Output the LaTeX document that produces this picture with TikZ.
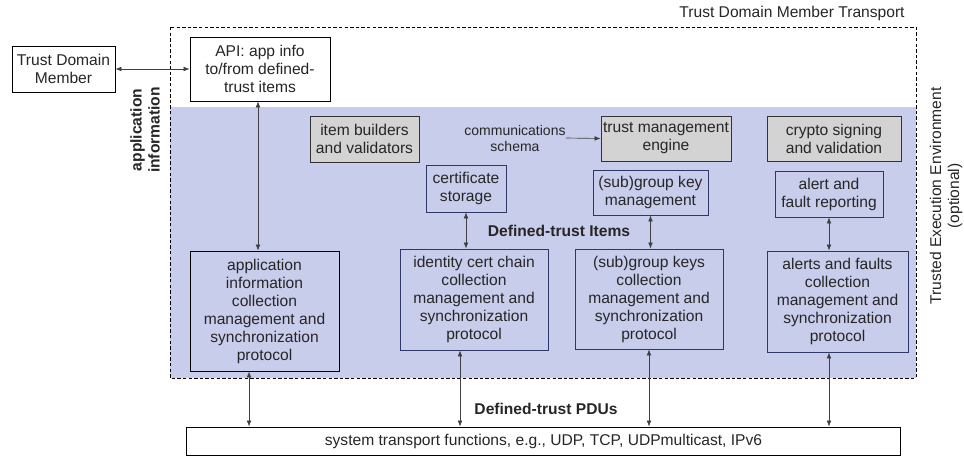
\documentclass[tikz,border=0pt]{standalone}
\usepackage{fontspec}
\setmainfont{Liberation Sans}
\usepackage{xcolor}
\usepackage{tikz}
\usetikzlibrary{positioning,arrows.meta,shapes}

\definecolor{teeblue}{RGB}{200,205,235}
\definecolor{boxgray}{RGB}{211,211,211}
\definecolor{itemnavy}{RGB}{45,55,105}

\begin{document}
\begin{tikzpicture}[
			x=0.75pt, y=-0.75pt,
			every node/.style={text=black!85},
			block/.style={rectangle, draw, line width=0.7pt, inner sep=0pt, align=center, font=\fontsize{11.7}{13.5}\selectfont, fill=white},
			grayblock/.style={block, fill=boxgray, draw=black!80},
			itemblock/.style={block, fill=teeblue, draw=itemnavy},
			tag/.style={align=center, inner sep=0pt, font=\fontsize{11.7}{13.5}\selectfont},
			boldtag/.style={tag, font=\fontsize{11.7}{13.5}\selectfont\bfseries},
			arrow/.style={-{Latex[length=4.5pt,width=3.6pt]}, line width=0.5pt, black!75},
			twoway/.style={{Latex[length=4.5pt,width=3.6pt]}-{Latex[length=4.5pt,width=3.6pt]}, line width=0.5pt, black!75}
		]

		\useasboundingbox (0,0) rectangle (964,457);

		\fill[teeblue] (170,107) rectangle (916,378);
		\draw[dash pattern=on 2.6pt off 1.6pt, line width=0.6pt] (170,27) rectangle (916,378);

		\node[tag] (tdmt) at (792,13) {Trust Domain Member Transport};
		\node[tag, rotate=90] (tee) at (946,196) {Trusted Execution Environment\\(optional)};
		\node[boldtag, rotate=90] (appinfo) at (145,130) {application\\information};

		\node[block, minimum width=77.25pt, minimum height=34.5pt] (tdm) at (63.5,69) {Trust Domain\\Member};
		\node[block, minimum width=105pt, minimum height=48pt] (api) at (260,69) {API: app info\\to/from defined-\\trust items};

		\node[grayblock, minimum width=81.75pt, minimum height=34.5pt] (builders) at (364.5,139) {item builders\\and validators};
		\node[grayblock, minimum width=97.5pt, minimum height=33.75pt] (engine) at (666,138.5) {trust management\\engine};
		\node[grayblock, minimum width=100.5pt, minimum height=33.75pt] (crypto) at (834,138.5) {crypto signing\\and validation};
		\node[tag, font=\fontsize{10.5}{12}\selectfont] (schema) at (515,138) {communications\\schema};

		\node[itemblock, minimum width=60pt, minimum height=35.25pt] (certstore) at (466,188.5) {certificate\\storage};
		\node[itemblock, minimum width=86.25pt, minimum height=33.75pt] (groupmgmt) at (650.5,192.5) {(sub)group key\\management};
		\node[itemblock, minimum width=81pt, minimum height=34.5pt] (alertrep) at (829,194) {alert and\\fault reporting};

		\node[boldtag] (items) at (559,231) {Defined-trust Items};

		\node[itemblock, draw=black, minimum width=111.75pt, minimum height=90pt] (appcoll) at (264.5,311) {application\\information\\collection\\management and\\synchronization\\protocol};
		\node[itemblock, minimum width=111pt, minimum height=75.75pt] (certcoll) at (474,299.5) {identity cert chain\\collection\\management and\\synchronization\\protocol};
		\node[itemblock, minimum width=111pt, minimum height=75pt] (keyscoll) at (649,299) {(sub)group keys\\collection\\management and\\synchronization\\protocol};
		\node[itemblock, minimum width=105.75pt, minimum height=75.75pt] (alertcoll) at (837.5,301.5) {alerts and faults\\collection\\management and\\synchronization\\protocol};

		\node[boldtag] (pdus) at (546,409) {Defined-trust PDUs};
		\node[block, minimum width=535.5pt, minimum height=21pt] (transport) at (543.5,441) {system transport functions, e.g., UDP, TCP, UDPmulticast, IPv6};

		\draw[twoway] (tdm) -- (api);
		\draw[arrow] (schema.east) -- (engine.west);
		\draw[twoway] ([xshift=-1.5pt]api.south) -- ([xshift=-1.5pt]api.south |- appcoll.north);
		\draw[twoway] ([xshift=-11.6pt]appcoll.south) -- ([xshift=-11.6pt]appcoll.south |- transport.north);
		\draw[twoway] (certstore.south) -- (certstore.south |- certcoll.north);
		\draw[twoway] ([xshift=-10.5pt]certcoll.south) -- ([xshift=-10.5pt]certcoll.south |- transport.north);
		\draw[twoway] (groupmgmt.south) -- (groupmgmt.south |- keyscoll.north);
		\draw[twoway] (keyscoll.south) -- (keyscoll.south |- transport.north);
		\draw[twoway] (alertrep.south) -- (alertrep.south |- alertcoll.north);
		\draw[twoway] (alertrep.south |- alertcoll.south) -- (alertrep.south |- transport.north);
	\end{tikzpicture}
\end{document}
